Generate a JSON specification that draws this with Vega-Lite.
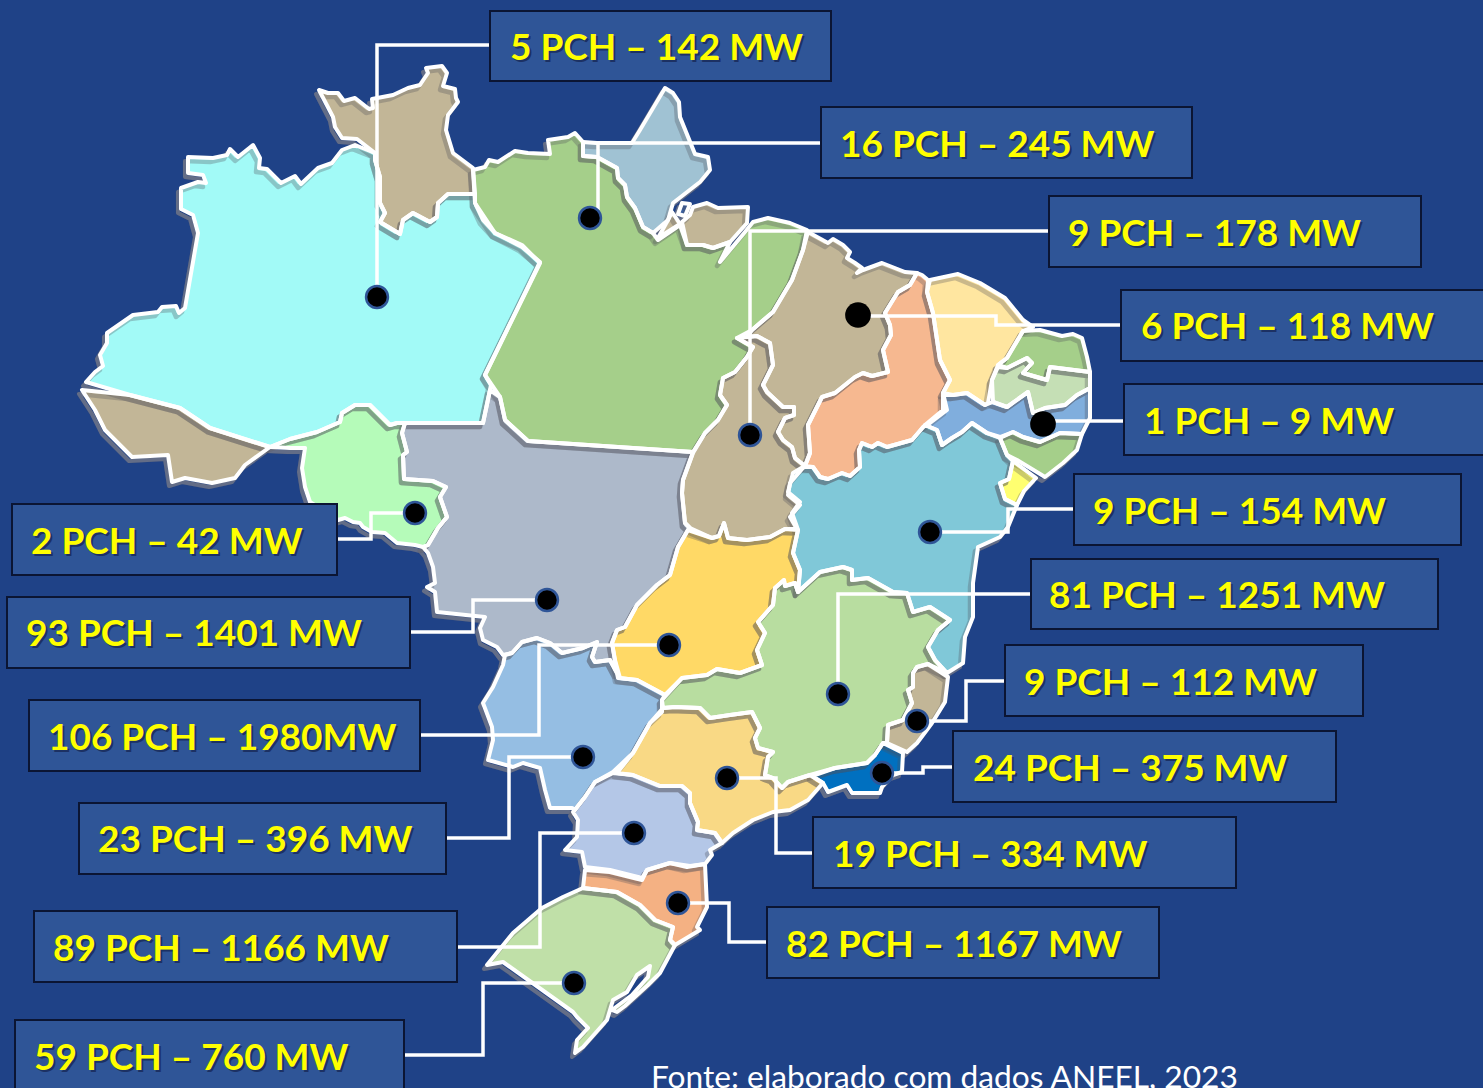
{
"$schema":"https://vega.github.io/schema/vega-lite/v6.json",
"width":1483,"height":1088,"padding":0,"autosize":{"type":"fit","contains":"padding"},
"background":"#1F4287",
"config":{"view":{"stroke":null}},
"datasets":{
"states":[
{"type":"Feature","properties":{"name":"AM"},"geometry":{"type":"Polygon","coordinates":[[[86,382],[95,372],[103,366],[100,355],[107,343],[107,333],[133,315],[158,312],[162,307],[176,306],[179,313],[185,308],[198,233],[193,215],[181,209],[181,188],[198,182],[206,183],[203,175],[188,173],[188,157],[213,158],[227,155],[230,149],[238,157],[253,145],[260,158],[259,168],[267,169],[281,183],[295,176],[301,184],[318,168],[332,163],[342,150],[355,145],[375,153],[375,160],[380,177],[380,203],[385,213],[380,222],[400,234],[403,220],[413,213],[430,222],[437,217],[438,203],[448,194],[475,194],[475,203],[483,220],[495,233],[522,247],[540,262],[485,375],[491,385],[490,390],[483,423],[405,423],[397,423],[390,425],[370,405],[355,405],[342,413],[340,422],[317,432],[290,439],[270,447],[210,428],[180,408],[130,395],[86,382]]]}},
{"type":"Feature","properties":{"name":"AC"},"geometry":{"type":"Polygon","coordinates":[[[82,390],[130,395],[180,408],[210,428],[270,447],[245,465],[235,478],[212,483],[185,478],[172,482],[168,455],[132,457],[105,430],[95,410],[82,390]]]}},
{"type":"Feature","properties":{"name":"RR"},"geometry":{"type":"Polygon","coordinates":[[[319,90],[328,93],[338,93],[344,101],[355,98],[369,109],[373,108],[372,99],[393,95],[408,88],[420,85],[428,73],[426,68],[442,66],[447,73],[443,86],[455,89],[456,98],[458,102],[448,115],[446,130],[453,153],[473,168],[475,194],[448,194],[438,203],[437,217],[430,222],[413,213],[403,220],[400,234],[380,222],[385,213],[380,203],[380,177],[375,160],[375,153],[357,139],[342,138],[335,127],[333,117],[319,90]]]}},
{"type":"Feature","properties":{"name":"PA"},"geometry":{"type":"Polygon","coordinates":[[[473,170],[485,167],[489,160],[498,162],[515,151],[528,153],[550,154],[548,140],[568,137],[575,133],[583,142],[583,156],[597,157],[617,168],[618,178],[625,185],[627,197],[635,208],[643,227],[653,233],[658,240],[680,225],[687,245],[703,245],[713,248],[730,242],[720,262],[745,232],[753,222],[768,218],[790,223],[807,230],[803,250],[792,280],[773,312],[752,330],[737,338],[753,347],[747,357],[735,372],[723,378],[720,395],[727,405],[718,420],[705,433],[693,452],[528,441],[505,420],[500,397],[485,375],[540,263],[522,245],[495,233],[475,203],[473,170]]]}},
{"type":"Feature","properties":{"name":"AP"},"geometry":{"type":"Polygon","coordinates":[[[583,142],[597,143],[632,143],[640,130],[665,88],[673,93],[679,102],[680,117],[695,154],[708,157],[710,170],[700,182],[673,203],[668,220],[653,233],[643,227],[635,208],[627,197],[625,185],[618,178],[617,168],[597,157],[583,156],[583,142]]]}},
{"type":"Feature","properties":{"name":"MJ"},"geometry":{"type":"Polygon","coordinates":[[[693,207],[707,203],[718,208],[748,207],[747,223],[730,242],[713,248],[703,245],[687,245],[682,222],[690,215],[693,207]]]}},
{"type":"Feature","properties":{"name":"MJ"},"geometry":{"type":"Polygon","coordinates":[[[658,238],[680,224],[672,212],[668,220],[658,238]]]}},
{"type":"Feature","properties":{"name":"IL"},"geometry":{"type":"Polygon","coordinates":[[[678,214],[682,203],[690,204],[685,216],[678,214]]]}},
{"type":"Feature","properties":{"name":"MA"},"geometry":{"type":"Polygon","coordinates":[[[808,232],[828,243],[833,239],[843,245],[850,252],[847,258],[855,263],[862,268],[857,273],[863,270],[882,263],[905,272],[917,273],[910,285],[898,292],[893,300],[885,313],[890,325],[891,335],[883,350],[888,372],[872,376],[863,373],[855,377],[835,393],[822,397],[808,425],[810,453],[805,466],[795,458],[792,447],[783,440],[778,432],[785,418],[794,415],[794,407],[783,407],[767,392],[763,385],[773,365],[770,343],[757,336],[747,337],[752,330],[773,312],[792,280],[803,250],[808,232]]]}},
{"type":"Feature","properties":{"name":"TO"},"geometry":{"type":"Polygon","coordinates":[[[737,338],[753,347],[747,357],[735,372],[723,378],[720,395],[727,405],[718,420],[705,433],[693,453],[683,480],[682,493],[685,523],[690,528],[712,538],[719,536],[724,523],[728,538],[747,540],[770,537],[785,529],[797,529],[790,517],[800,505],[788,495],[790,483],[803,468],[805,466],[795,458],[792,447],[783,440],[778,432],[785,418],[794,415],[794,407],[783,407],[767,392],[763,385],[773,365],[770,343],[757,336],[737,338]]]}},
{"type":"Feature","properties":{"name":"PI"},"geometry":{"type":"Polygon","coordinates":[[[917,273],[922,275],[928,280],[927,292],[933,313],[940,360],[950,380],[943,393],[947,410],[930,423],[923,427],[912,440],[887,447],[878,443],[872,447],[862,443],[859,450],[860,467],[850,476],[842,473],[828,479],[820,477],[813,467],[805,466],[810,453],[808,425],[822,397],[835,393],[855,377],[863,373],[872,376],[888,372],[883,350],[891,335],[890,325],[885,313],[893,300],[898,292],[910,285],[917,273]]]}},
{"type":"Feature","properties":{"name":"CE"},"geometry":{"type":"Polygon","coordinates":[[[930,280],[958,274],[980,283],[1005,298],[1023,320],[1033,327],[1023,331],[1007,358],[998,365],[992,380],[988,403],[985,405],[967,393],[953,395],[943,393],[950,380],[940,360],[933,313],[927,292],[930,280]]]}},
{"type":"Feature","properties":{"name":"RN"},"geometry":{"type":"Polygon","coordinates":[[[1023,331],[1040,330],[1062,336],[1073,334],[1082,338],[1087,357],[1090,372],[1050,367],[1047,380],[1023,373],[1032,363],[1027,358],[1007,368],[998,365],[1007,358],[1023,331]]]}},
{"type":"Feature","properties":{"name":"PB"},"geometry":{"type":"Polygon","coordinates":[[[998,367],[1007,368],[1027,358],[1032,363],[1023,373],[1047,380],[1050,367],[1090,372],[1090,388],[1077,395],[1065,405],[1045,408],[1033,413],[1028,392],[1007,407],[993,402],[992,380],[998,367]]]}},
{"type":"Feature","properties":{"name":"PE"},"geometry":{"type":"Polygon","coordinates":[[[943,395],[953,395],[967,393],[985,405],[993,402],[1007,407],[1028,392],[1033,413],[1045,408],[1065,405],[1077,395],[1090,388],[1090,418],[1082,434],[1060,433],[1040,442],[1023,437],[1013,432],[1000,437],[987,433],[972,423],[962,432],[952,438],[942,445],[937,430],[925,425],[943,410],[943,395]]]}},
{"type":"Feature","properties":{"name":"AL"},"geometry":{"type":"Polygon","coordinates":[[[1000,438],[1013,432],[1023,437],[1040,442],[1060,433],[1082,434],[1077,450],[1063,463],[1045,477],[1017,460],[1007,455],[1000,438]]]}},
{"type":"Feature","properties":{"name":"SE"},"geometry":{"type":"Polygon","coordinates":[[[1013,461],[1036,478],[1024,491],[1017,505],[1005,499],[1000,483],[1009,479],[1013,461]]]}},
{"type":"Feature","properties":{"name":"BA"},"geometry":{"type":"Polygon","coordinates":[[[803,467],[793,473],[788,492],[800,502],[792,513],[797,527],[798,530],[793,553],[800,570],[798,592],[820,572],[843,567],[852,570],[852,580],[868,578],[893,592],[907,593],[913,612],[930,607],[950,620],[938,630],[928,647],[935,660],[947,673],[963,663],[965,637],[973,617],[973,583],[978,547],[1000,537],[1008,527],[1017,505],[1005,499],[1000,483],[1009,479],[1013,461],[1007,455],[1000,438],[987,433],[972,423],[962,432],[952,438],[942,445],[937,430],[925,425],[912,440],[887,447],[878,443],[872,447],[862,443],[859,450],[860,467],[850,476],[842,473],[828,479],[820,477],[813,467],[803,467]]]}},
{"type":"Feature","properties":{"name":"ES"},"geometry":{"type":"Polygon","coordinates":[[[917,667],[928,664],[948,677],[945,702],[932,723],[917,743],[907,752],[887,743],[888,725],[903,720],[912,703],[908,690],[913,687],[913,673],[917,667]]]}},
{"type":"Feature","properties":{"name":"RJ"},"geometry":{"type":"Polygon","coordinates":[[[883,743],[903,753],[902,772],[893,775],[882,787],[880,793],[852,793],[847,785],[828,792],[823,783],[812,776],[835,768],[867,763],[875,755],[883,743]]]}},
{"type":"Feature","properties":{"name":"MG"},"geometry":{"type":"Polygon","coordinates":[[[798,592],[820,572],[843,567],[852,570],[852,580],[868,578],[893,592],[907,593],[913,612],[930,607],[950,620],[938,630],[928,647],[935,660],[947,673],[928,664],[917,667],[913,673],[913,687],[908,690],[912,703],[903,720],[888,725],[887,743],[883,743],[875,755],[867,763],[835,768],[810,775],[788,782],[782,788],[773,778],[765,775],[768,757],[773,752],[758,748],[755,738],[760,728],[752,712],[730,715],[710,718],[700,708],[675,707],[663,708],[662,700],[682,678],[707,675],[717,669],[740,673],[762,665],[757,650],[765,633],[758,622],[773,605],[775,588],[784,580],[785,586],[795,583],[798,592]]]}},
{"type":"Feature","properties":{"name":"GO"},"geometry":{"type":"Polygon","coordinates":[[[688,530],[712,538],[719,536],[724,523],[728,538],[747,540],[770,537],[785,529],[798,530],[793,553],[800,570],[798,592],[795,583],[785,586],[784,580],[775,588],[773,605],[758,622],[765,633],[757,650],[762,665],[740,673],[717,669],[707,675],[682,678],[665,695],[637,680],[620,678],[615,660],[612,643],[617,630],[625,627],[637,605],[657,585],[670,575],[678,547],[688,530]]]}},
{"type":"Feature","properties":{"name":"MT"},"geometry":{"type":"Polygon","coordinates":[[[405,423],[483,423],[490,390],[500,397],[505,420],[528,441],[693,452],[683,480],[682,493],[685,523],[690,528],[688,530],[678,547],[670,575],[657,585],[637,605],[625,627],[617,630],[612,643],[617,673],[610,660],[595,662],[592,657],[597,642],[583,648],[562,653],[550,643],[537,638],[522,642],[512,653],[503,655],[497,647],[483,640],[480,628],[485,617],[437,612],[435,592],[427,587],[435,583],[433,567],[428,553],[423,547],[428,545],[438,528],[447,517],[440,497],[446,487],[433,481],[404,479],[403,455],[407,452],[402,433],[405,423]]]}},
{"type":"Feature","properties":{"name":"RO"},"geometry":{"type":"Polygon","coordinates":[[[405,423],[402,433],[407,452],[403,455],[404,479],[433,481],[446,487],[440,497],[447,517],[438,528],[428,545],[423,547],[415,545],[397,543],[385,533],[372,532],[363,527],[360,523],[353,522],[345,518],[338,520],[310,502],[305,487],[302,468],[305,448],[290,448],[270,447],[290,439],[317,432],[340,422],[342,413],[355,405],[370,405],[390,425],[397,423],[405,423]]]}},
{"type":"Feature","properties":{"name":"MS"},"geometry":{"type":"Polygon","coordinates":[[[505,655],[512,653],[522,642],[537,638],[550,643],[562,653],[583,648],[597,642],[592,657],[595,662],[610,660],[617,673],[618,678],[637,680],[665,695],[662,700],[662,712],[650,723],[633,753],[613,772],[595,782],[585,797],[575,810],[572,808],[550,808],[545,790],[540,768],[523,763],[513,767],[488,760],[493,740],[492,727],[483,703],[493,687],[503,665],[505,655]]]}},
{"type":"Feature","properties":{"name":"SP"},"geometry":{"type":"Polygon","coordinates":[[[663,708],[675,707],[700,708],[710,718],[730,715],[752,712],[760,728],[755,738],[758,748],[773,752],[768,757],[765,775],[773,778],[782,788],[788,782],[810,775],[823,783],[815,792],[808,800],[790,810],[773,812],[753,820],[733,833],[722,843],[715,833],[697,830],[698,822],[690,803],[690,793],[682,786],[660,786],[633,775],[617,773],[633,753],[650,723],[663,708]]]}},
{"type":"Feature","properties":{"name":"PR"},"geometry":{"type":"Polygon","coordinates":[[[613,773],[633,775],[660,786],[682,786],[690,793],[690,803],[698,822],[697,830],[715,833],[722,843],[710,850],[712,855],[705,864],[690,866],[670,863],[647,870],[642,878],[610,870],[585,867],[582,852],[565,850],[577,837],[578,820],[573,812],[585,797],[595,782],[613,773]]]}},
{"type":"Feature","properties":{"name":"SC"},"geometry":{"type":"Polygon","coordinates":[[[585,870],[610,872],[642,880],[647,870],[670,863],[687,867],[705,864],[707,907],[697,927],[700,930],[675,945],[670,940],[673,927],[655,920],[640,905],[617,892],[583,888],[585,870]]]}},
{"type":"Feature","properties":{"name":"RS"},"geometry":{"type":"Polygon","coordinates":[[[583,888],[617,892],[640,905],[655,920],[673,927],[670,940],[675,945],[660,973],[648,985],[625,1006],[617,1012],[612,1010],[632,995],[648,977],[650,966],[637,975],[627,992],[613,1000],[607,1020],[583,1047],[575,1053],[577,1040],[588,1028],[577,1017],[573,1012],[503,962],[487,965],[513,933],[542,908],[563,897],[583,888]]]}}
],
"links":[
{"id":"a","s":1,"x":490,"y":45},{"id":"a","s":2,"x":377,"y":45},{"id":"a","s":3,"x":377,"y":297},
{"id":"b","s":1,"x":820,"y":143},{"id":"b","s":2,"x":598,"y":143},{"id":"b","s":3,"x":598,"y":210},
{"id":"c","s":1,"x":1049,"y":231},{"id":"c","s":2,"x":750,"y":231},{"id":"c","s":3,"x":750,"y":435},
{"id":"d","s":1,"x":1121,"y":325},{"id":"d","s":2,"x":996,"y":325},{"id":"d","s":3,"x":996,"y":316},{"id":"d","s":4,"x":858,"y":316},
{"id":"e","s":1,"x":1124,"y":421},{"id":"e","s":2,"x":1060,"y":421},{"id":"e","s":3,"x":1043,"y":421},
{"id":"f","s":1,"x":1074,"y":509},{"id":"f","s":2,"x":1008,"y":509},{"id":"f","s":3,"x":1008,"y":532},{"id":"f","s":4,"x":930,"y":532},
{"id":"g","s":1,"x":1031,"y":594},{"id":"g","s":2,"x":838,"y":594},{"id":"g","s":3,"x":838,"y":694},
{"id":"h","s":1,"x":1005,"y":681},{"id":"h","s":2,"x":966,"y":681},{"id":"h","s":3,"x":966,"y":721},{"id":"h","s":4,"x":917,"y":721},
{"id":"i","s":1,"x":953,"y":767},{"id":"i","s":2,"x":923,"y":767},{"id":"i","s":3,"x":923,"y":773},{"id":"i","s":4,"x":882,"y":773},
{"id":"j","s":1,"x":813,"y":853},{"id":"j","s":2,"x":776,"y":853},{"id":"j","s":3,"x":776,"y":778},{"id":"j","s":4,"x":727,"y":778},
{"id":"k","s":1,"x":767,"y":942},{"id":"k","s":2,"x":729,"y":942},{"id":"k","s":3,"x":729,"y":903},{"id":"k","s":4,"x":678,"y":903},
{"id":"l","s":1,"x":404,"y":1055},{"id":"l","s":2,"x":483,"y":1055},{"id":"l","s":3,"x":483,"y":983},{"id":"l","s":4,"x":574,"y":983},
{"id":"m","s":1,"x":458,"y":947},{"id":"m","s":2,"x":540,"y":947},{"id":"m","s":3,"x":540,"y":833},{"id":"m","s":4,"x":634,"y":833},
{"id":"n","s":1,"x":447,"y":838},{"id":"n","s":2,"x":509,"y":838},{"id":"n","s":3,"x":509,"y":757},{"id":"n","s":4,"x":583,"y":757},
{"id":"o","s":1,"x":421,"y":735},{"id":"o","s":2,"x":539,"y":735},{"id":"o","s":3,"x":539,"y":645},{"id":"o","s":4,"x":669,"y":645},
{"id":"p","s":1,"x":411,"y":632},{"id":"p","s":2,"x":473,"y":632},{"id":"p","s":3,"x":473,"y":600},{"id":"p","s":4,"x":547,"y":600},
{"id":"q","s":1,"x":338,"y":539},{"id":"q","s":2,"x":371,"y":539},{"id":"q","s":3,"x":371,"y":513},{"id":"q","s":4,"x":415,"y":513}
],
"dots":[
{"x":377,"y":297},{"x":590,"y":218},{"x":750,"y":435},{"x":930,"y":532},{"x":838,"y":694},{"x":917,"y":721},{"x":882,"y":773},{"x":727,"y":778},{"x":678,"y":903},{"x":574,"y":983},{"x":634,"y":833},{"x":583,"y":757},{"x":669,"y":645},{"x":547,"y":600},{"x":415,"y":513}
],
"bigdots":[{"x":858,"y":315},{"x":1043,"y":424}],
"boxes":[
{"label":"5 PCH – 142 MW","x0":490,"x1":831,"y0":11,"y1":81,"tx":510},
{"label":"16 PCH – 245 MW","x0":821,"x1":1192,"y0":107,"y1":178,"tx":840},
{"label":"9 PCH – 178 MW","x0":1049,"x1":1421,"y0":196,"y1":267,"tx":1068},
{"label":"6 PCH – 118 MW","x0":1121,"x1":1490,"y0":290,"y1":361,"tx":1141},
{"label":"1 PCH – 9 MW","x0":1124,"x1":1490,"y0":384,"y1":455,"tx":1144},
{"label":"9 PCH – 154 MW","x0":1074,"x1":1461,"y0":474,"y1":545,"tx":1093},
{"label":"81 PCH – 1251 MW","x0":1031,"x1":1438,"y0":559,"y1":629,"tx":1049},
{"label":"9 PCH – 112 MW","x0":1005,"x1":1363,"y0":645,"y1":716,"tx":1024},
{"label":"24 PCH – 375 MW","x0":953,"x1":1336,"y0":731,"y1":802,"tx":973},
{"label":"19 PCH – 334 MW","x0":813,"x1":1236,"y0":817,"y1":888,"tx":833},
{"label":"82 PCH – 1167 MW","x0":767,"x1":1159,"y0":907,"y1":978,"tx":786},
{"label":"59 PCH – 760 MW","x0":15,"x1":404,"y0":1020,"y1":1100,"tx":34},
{"label":"89 PCH – 1166 MW","x0":34,"x1":457,"y0":911,"y1":982,"tx":53},
{"label":"23 PCH – 396 MW","x0":79,"x1":446,"y0":803,"y1":874,"tx":98},
{"label":"106 PCH – 1980MW","x0":29,"x1":420,"y0":700,"y1":771,"tx":48},
{"label":"93 PCH – 1401 MW","x0":7,"x1":410,"y0":597,"y1":668,"tx":26},
{"label":"2 PCH – 42 MW","x0":12,"x1":337,"y0":504,"y1":575,"tx":31}
],
"labels":[
{"label":"5 PCH – 142 MW","tx":510,"ty":49},
{"label":"16 PCH – 245 MW","tx":840,"ty":146},
{"label":"9 PCH – 178 MW","tx":1068,"ty":235},
{"label":"6 PCH – 118 MW","tx":1141,"ty":328},
{"label":"1 PCH – 9 MW","tx":1144,"ty":423},
{"label":"9 PCH – 154 MW","tx":1093,"ty":513},
{"label":"81 PCH – 1251 MW","tx":1049,"ty":597},
{"label":"9 PCH – 112 MW","tx":1024,"ty":684},
{"label":"24 PCH – 375 MW","tx":973,"ty":770},
{"label":"19 PCH – 334 MW","tx":833,"ty":856},
{"label":"82 PCH – 1167 MW","tx":786,"ty":946},
{"label":"59 PCH – 760 MW","tx":34,"ty":1059},
{"label":"89 PCH – 1166 MW","tx":53,"ty":950},
{"label":"23 PCH – 396 MW","tx":98,"ty":841},
{"label":"106 PCH – 1980MW","tx":48,"ty":739},
{"label":"93 PCH – 1401 MW","tx":26,"ty":635},
{"label":"2 PCH – 42 MW","tx":31,"ty":543}
],
"note":[{"label":"Fonte: elaborado com dados ANEEL, 2023","tx":651,"ty":1095}]
},
"layer":[
{"data":{"name":"states"},
 "projection":{"type":"identity","scale":1,"translate":[-3,4],"reflectX":false},
 "mark":{"type":"geoshape","filled":false,"stroke":"#8088A0","strokeOpacity":0.8,"strokeWidth":4,"strokeJoin":"round"},
 "encoding":{}},
{"data":{"name":"states"},
 "projection":{"type":"identity","scale":1,"translate":[0,0]},
 "mark":{"type":"geoshape","stroke":null},
 "encoding":{"fill":{"field":"properties.name","type":"nominal","legend":null,
  "scale":{"domain":["AM","AC","RR","PA","AP","MJ","IL","MA","TO","PI","CE","RN","PB","PE","AL","SE","BA","ES","RJ","MG","GO","MT","RO","MS","SP","PR","SC","RS"],
  "range":["#A2FAF7","#C2B697","#C2B697","#A5CF8A","#A0C2D3","#C2B697","#3A5F9F","#C2B697","#C2B697","#F6B890","#FFE6A0","#A5CF8A","#C5DFB5","#80AEDD","#A5CF8A","#FFFF70","#80C8D8","#C2B697","#0070C0","#B8DDA0","#FFD966","#ADB9CA","#B5FBB9","#95BEE3","#F9D985","#B4C7E7","#F4B183","#C0E0A8"]}}}},
{"data":{"name":"states"},
 "projection":{"type":"identity","scale":1,"translate":[-3,4],"reflectY":false},
 "mark":{"type":"geoshape","filled":false,"stroke":"#50505A","strokeOpacity":0.3,"strokeWidth":4.5,"strokeJoin":"round"},
 "encoding":{}},
{"data":{"name":"states"},
 "projection":{"type":"identity","scale":1,"translate":[0,0]},
 "mark":{"type":"geoshape","filled":false,"stroke":"#FFFFFF","strokeWidth":4,"strokeJoin":"round"},
 "encoding":{}},
{"data":{"name":"links"},
 "mark":{"type":"line","stroke":"#FFFFFF","strokeWidth":3.5,"interpolate":"linear"},
 "encoding":{
  "x":{"field":"x","type":"quantitative","axis":null,"scale":{"domain":[0,1483],"range":[0,1483],"nice":false,"zero":false}},
  "y":{"field":"y","type":"quantitative","axis":null,"scale":{"domain":[0,1088],"range":[0,1088],"nice":false,"zero":false}},
  "detail":{"field":"id","type":"nominal"},
  "order":{"field":"s","type":"quantitative"}}},
{"data":{"name":"dots"},
 "mark":{"type":"circle","fill":"#000000","stroke":"#2F5597","strokeWidth":2.5,"opacity":1,"size":480},
 "encoding":{
  "x":{"field":"x","type":"quantitative"},
  "y":{"field":"y","type":"quantitative"}}},
{"data":{"name":"bigdots"},
 "mark":{"type":"circle","fill":"#000000","opacity":1,"size":660},
 "encoding":{
  "x":{"field":"x","type":"quantitative"},
  "y":{"field":"y","type":"quantitative"}}},
{"data":{"name":"boxes"},
 "mark":{"type":"rect","fill":"#2F5597","stroke":"#0B1533","strokeWidth":2,"clip":true},
 "encoding":{
  "x":{"field":"x0","type":"quantitative"},"x2":{"field":"x1"},
  "y":{"field":"y0","type":"quantitative"},"y2":{"field":"y1"}}},
{"data":{"name":"labels"},
 "mark":{"type":"text","font":"Lato","fontWeight":"bold","fontSize":37,"align":"left","baseline":"middle","fill":"#14234F","opacity":0.7,"dx":2,"dy":2},
 "encoding":{"x":{"field":"tx","type":"quantitative"},"y":{"field":"ty","type":"quantitative"},"text":{"field":"label","type":"nominal"}}},
{"data":{"name":"labels"},
 "mark":{"type":"text","font":"Lato","fontWeight":"bold","fontSize":37,"align":"left","baseline":"middle","fill":"#FFFF00"},
 "encoding":{"x":{"field":"tx","type":"quantitative"},"y":{"field":"ty","type":"quantitative"},"text":{"field":"label","type":"nominal"}}},
{"data":{"name":"note"},
 "mark":{"type":"text","font":"Lato","fontSize":31.7,"align":"left","baseline":"bottom","fill":"#FFFFFF","clip":true},
 "encoding":{"x":{"field":"tx","type":"quantitative"},"y":{"field":"ty","type":"quantitative"},"text":{"field":"label","type":"nominal"}}}
]
}
